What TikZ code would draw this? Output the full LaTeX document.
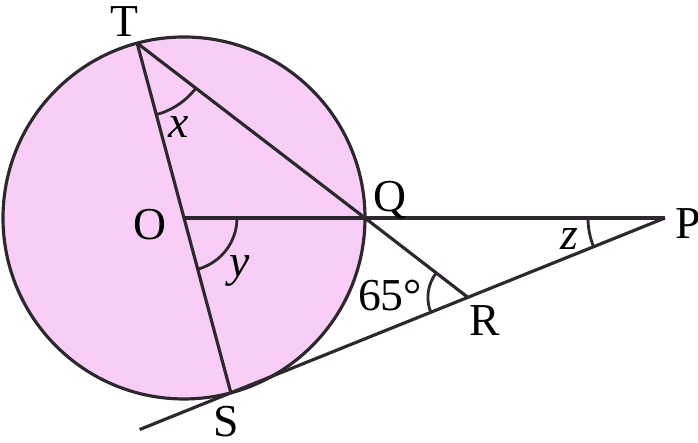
\documentclass[tikz,border=0pt]{standalone}
\usepackage{fontspec}
\setmainfont{Liberation Serif}[ItalicFont={Liberation Serif Italic}]
\usetikzlibrary{angles, quotes, calc}
\definecolor{discpink}{RGB}{248,206,246}
\definecolor{ink}{RGB}{45,40,45}
\tikzset{
  edge/.style={ink, line width=0.9pt},
  lbl/.style={inner sep=0pt, font=\fontsize{13}{15}\selectfont},
  anglemark/.style={draw=ink, line width=0.8pt}
}

\begin{document}
\begin{tikzpicture}
                \useasboundingbox (0,0) rectangle (6.98,4.43);
                % points
                \coordinate (O) at (1.84,2.25);
                \coordinate (Q) at ($(O)+(1.81,0)$);
                \coordinate (T) at ($(O)+(105:1.81)$);
                \coordinate (S) at ($(O)+(-75:1.81)$);
                \coordinate (P) at (6.65,2.25);
                \coordinate (R) at ($(P)!0.454!(S)$);
                \coordinate (E) at ($(P)!1.21!(S)$);
                % circle
                \draw[edge, fill=discpink] (O) circle (1.81);
                % chords and lines
                \draw[edge] (T) -- (S);
                \draw[edge] (T) -- (Q);
                \draw[edge] (O) -- (P);
                \draw[edge] (Q) -- (R);
                \draw[edge] (E) -- (P);
                % angle marks
                \pic[anglemark, angle radius=7.4mm] {angle = O--T--Q};
                \pic[anglemark, angle radius=5.3mm] {angle = S--O--Q};
                \pic[anglemark, angle radius=4mm] {angle = Q--R--S};
                \pic[anglemark, angle radius=7.7mm] {angle = Q--P--S};
                % point labels
                \node[lbl] (lT) at (1.24,4.21) {T};
                \node[lbl] (lO) at (1.50,2.18) {O};
                \node[lbl] (lQ) at (3.90,2.43) {Q};
                \node[lbl] (lP) at (6.88,2.19) {P};
                \node[lbl] (lR) at (4.85,1.22) {R};
                \node[lbl] (lS) at (2.26,0.21) {S};
                % angle labels
                \node[lbl] (lx) at (1.79,3.16) {\textit{x}};
                \node[lbl] (ly) at (2.40,1.72) {\textit{y}};
                \node[lbl] (lz) at (5.69,2.04) {\textit{z}};
                \node[lbl] (l65) at (3.90,1.47) {65°};
\end{tikzpicture}
\end{document}
